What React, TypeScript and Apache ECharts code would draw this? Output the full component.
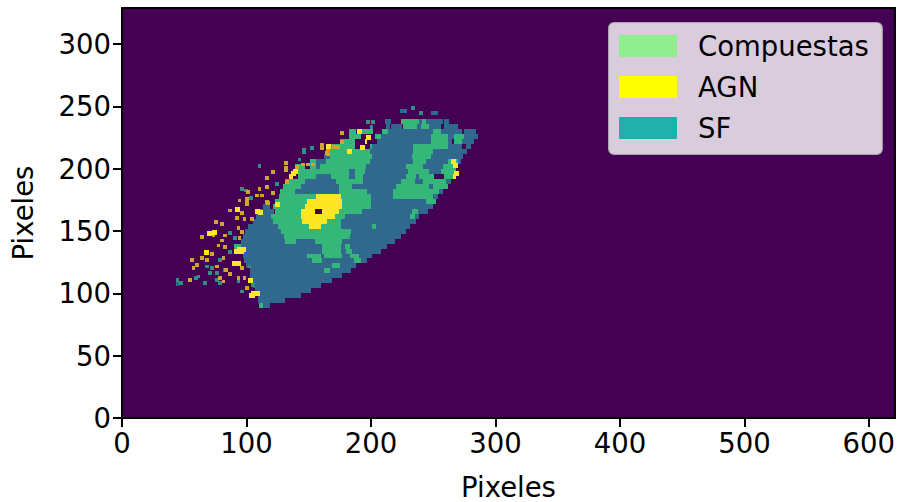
import React, { useEffect, useRef } from "react";
import * as echarts from "echarts";

const xTicks = [0, 100, 200, 300, 400, 500, 600];
const yTicks = [0, 50, 100, 150, 200, 250, 300];
const legendNames = ["Compuestas", "AGN", "SF"];
const legendColors = ["#90ee90", "#ffff00", "#20b2aa"];
const classColors: Record<string, string> = { s: "#31688e", c: "#35b779", a: "#fde725", k: "#440154", o: "#cfa52f", t: "#2f9084" };

// Classified map: each row is "bottom y | class from to class from to ..." in pixel units
const rowHeight = 4;
const bodyRows = [
  "236|s 211 216 c 224 239 s 239 241 c 241 244 s 244 258 s 259 263",
  "232|s 212 215 s 216 225 c 226 237 s 237 240 c 240 247 s 247 256 s 259 270",
  "228|c 182 188 c 191 202 c 209 214 s 214 250 c 250 256 s 256 273 s 275 284",
  "224|c 182 192 c 203 208 s 208 248 c 248 262 s 262 267 c 267 275 s 275 286",
  "220|c 175 187 a 195 197 s 205 248 c 248 262 s 262 265 c 267 273 s 273 283",
  "216|c 167 187 c 199 201 s 201 234 c 234 262 s 262 273 s 276 280",
  "212|c 166 199 s 199 234 c 234 250 s 250 277",
  "208|s 162 167 c 167 201 s 201 233 c 233 248 s 248 274",
  "204|c 151 156 s 156 164 c 164 199 s 199 234 c 234 244 s 244 262 c 262 270 s 270 272",
  "200|c 139 147 c 151 156 s 156 159 c 159 196 s 196 228 c 228 242 s 242 258 c 258 268",
  "196|a 137 141 c 141 182 s 182 187 c 187 195 s 195 230 c 230 247 s 247 256 c 256 268",
  "192|a 134 137 c 141 156 s 156 168 c 168 182 s 182 187 c 187 194 s 194 228 c 228 236 s 236 239 c 239 251 c 259 266 a 266 268",
  "188|c 131 147 s 147 172 c 172 194 s 194 224 c 224 235 s 235 242 c 242 260 s 260 264",
  "184|c 129 144 s 144 174 c 174 185 s 185 220 c 220 247 s 247 250 c 250 262",
  "180|c 127 139 s 139 174 c 174 197 s 197 218 c 218 255 s 255 258",
  "176|c 126 156 a 156 176 c 176 200 s 200 218 c 218 250 s 250 254",
  "172|c 123 149 a 149 177 c 177 200 s 200 244 c 244 252",
  "168|s 113 119 c 121 147 a 147 177 c 177 200 s 200 250",
  "164|s 110 122 c 123 144 a 144 155 k 155 161 a 161 174 c 174 193 s 193 233 c 233 238 s 238 246",
  "160|s 108 120 c 120 144 a 144 171 c 171 179 s 179 231 c 231 235 s 235 239",
  "156|s 105 121 c 121 145 a 145 165 c 165 176 s 176 236",
  "152|s 101 125 c 125 150 a 150 160 c 160 176 s 176 201 c 201 204 s 204 231",
  "148|s 99 128 c 128 184 s 184 228",
  "144|s 97 130 c 130 183 s 183 224",
  "140|s 96 131 c 131 140 s 140 155 c 155 177 s 177 219",
  "136|c 90 96 s 96 161 c 161 176 s 176 179 c 179 183 s 183 213",
  "132|a 90 98 s 98 161 c 161 176 s 176 180 c 180 185 s 185 208",
  "128|s 97 149 c 149 160 s 160 162 c 162 177 s 177 183 c 183 190 s 190 201",
  "124|s 98 153 c 153 161 s 161 186 c 186 192 s 192 197",
  "120|s 100 169 c 169 175 s 175 188",
  "116|s 103 162 c 162 167 s 167 184",
  "112|s 103 177",
  "108|s 105 169",
  "104|s 105 160",
  "100|s 107 152",
  "96|a 102 107 s 109 144",
  "92|s 109 131",
  "88|c 110 113 s 113 119",
];

// Isolated pixels at the edge of the map, [x, y]
const amberSpecks = [
  [93,173],[99,173],[99,170],[116,171],[85,165],[91,159],[95,163],[97,158],[103,158],[74,156],[79,154],[63,144],[72,145],[81,145],[79,141],[76,137],[81,136],[92,151],[95,148],[93,143],[71,130],[55,125],[63,127],[67,125],[80,127],[59,121],[56,119],[75,120],[82,117],[85,114],[53,109],[77,111],[80,108],[92,111],[95,119],[97,111],[99,103],
  [120,196],[130,203],[130,199],[130,197],[139,200],[159,218],[159,215],[164,217],[164,214],[164,210],[144,202],[148,202],[152,202],[131,188],[115,191],[109,182],[115,184],[100,180],[107,177],[111,177],[120,179],[99,174],[115,172],
  [175,227],[169,216],[172,216],[175,220],[163,211],
];
const tealSpecks = [
  [85,147],[89,143],[85,132],[77,125],[67,120],[71,119],[81,117],[60,112],[58,111],[69,115],[75,115],[75,109],[77,107],[92,108],[101,120],[104,105],[46,107],[65,107],[95,100],[43,109],
  [109,201],[145,214],[145,212],[151,215],[141,206],[123,186],[95,182],[98,181],[102,175],[196,236],[200,236],[199,232],[232,247],[239,243],
];
const blueSpecks = [[43,106],[223,245],[226,245],[248,243],[251,243]];
const yellowSpecks = [
  [123,169],[91,165],[109,163],[107,164],[68,146],[72,147],[92,133],[96,133],[66,131],[88,122],[92,122],[101,108],[104,98],[107,98],
  [136,194],[181,212],[189,228],[191,215],[196,223],[164,216],[264,204],[267,194],[266,201],
];
const speckSize = 3;

function cellsFor(cls: string) {
  const out: number[][] = [];
  bodyRows.forEach((row) => {
    const [yText, runs] = row.split("|");
    const y = Number(yText);
    const parts = runs.split(" ");
    for (let i = 0; i < parts.length; i += 3) {
      if (parts[i] === cls) out.push([Number(parts[i + 1]), Number(parts[i + 2]), y, y + rowHeight]);
    }
  });
  return out;
}
const speckCells = (list: number[][], s = speckSize) => list.map(([x, y]) => [x, x + s, y, y + s]);

function rectSeries(name: string, color: string, fill: string, data: number[][]) {
  return {
    name,
    type: "custom",
    coordinateSystem: "cartesian2d",
    itemStyle: { color },
    encode: { x: [0, 1], y: [2, 3] },
    clip: true,
    silent: true,
    renderItem: (_p: any, api: any) => {
      const a = api.coord([api.value(0), api.value(3)]);
      const b = api.coord([api.value(1), api.value(2)]);
      const x0 = Math.round(a[0]), y0 = Math.round(a[1]), x1 = Math.round(b[0]), y1 = Math.round(b[1]);
      return { type: "rect", shape: { x: x0, y: y0, width: x1 - x0, height: y1 - y0 }, style: { fill } };
    },
    data,
  };
}

export default function App() {
  const ref = useRef<HTMLDivElement>(null);
  useEffect(() => {
    document.body.style.margin = "0";
    const chart = echarts.init(ref.current!, null, { renderer: "svg" });
    const font = "DejaVu Sans";
    const axisBase = {
      type: "value",
      nameLocation: "middle",
      nameTextStyle: { fontFamily: font, fontSize: 27.5, color: "#000" },
      axisLine: { show: true, lineStyle: { color: "#000", width: 2 } },
      splitLine: { show: false },
    };
    const tick = { show: true, length: 9, lineStyle: { color: "#000", width: 2 } };
    const label = { fontFamily: font, fontSize: 27.5, color: "#000", margin: 11 };
    chart.setOption({
      animation: false,
      backgroundColor: "#ffffff",
      grid: { left: 122, right: 2, top: 8, bottom: 84, outerBoundsMode: "none", show: true, backgroundColor: "#440154", borderColor: "#000", borderWidth: 2 },
      xAxis: {
        ...axisBase, name: "Pixeles", nameGap: 55, min: 0, max: 621,
        axisTick: { ...tick, customValues: xTicks },
        axisLabel: { ...label, customValues: xTicks },
      },
      yAxis: {
        ...axisBase, name: "Pixeles", nameGap: 85, min: 0, max: 329,
        axisTick: { ...tick, customValues: yTicks },
        axisLabel: { ...label, customValues: yTicks },
      },
      legend: {
        data: legendNames.map((name, i) => ({ name, icon: "rect", itemStyle: { color: legendColors[i] } })),
        orient: "vertical",
        left: 609,
        top: 23,
        itemWidth: 58,
        itemHeight: 22,
        itemGap: 13,
        padding: [9, 13, 12, 10],
        selectedMode: false,
        backgroundColor: "rgba(255,255,255,0.8)",
        borderColor: "rgba(204,204,204,0.8)",
        borderWidth: 2,
        borderRadius: 5,
        textStyle: { fontFamily: font, fontSize: 27.5, color: "#000", padding: [0, 0, 0, 16] },
      },
      series: [
        rectSeries("SF", legendColors[2], classColors.s, [...cellsFor("s"), ...speckCells(blueSpecks)]),
        rectSeries("Compuestas", legendColors[0], classColors.c, cellsFor("c")),
        rectSeries("Mezcla", classColors.t, classColors.t, speckCells(tealSpecks)),
        rectSeries("Borde", classColors.o, classColors.o, speckCells(amberSpecks)),
        rectSeries("AGN", legendColors[1], classColors.a, [...cellsFor("a"), ...speckCells(yellowSpecks, 4)]),
        rectSeries("Nucleo", classColors.k, classColors.k, cellsFor("k")),
      ],
    });
    return () => chart.dispose();
  }, []);
  return <div ref={ref} style={{ width: 897, height: 502 }} />;
}
